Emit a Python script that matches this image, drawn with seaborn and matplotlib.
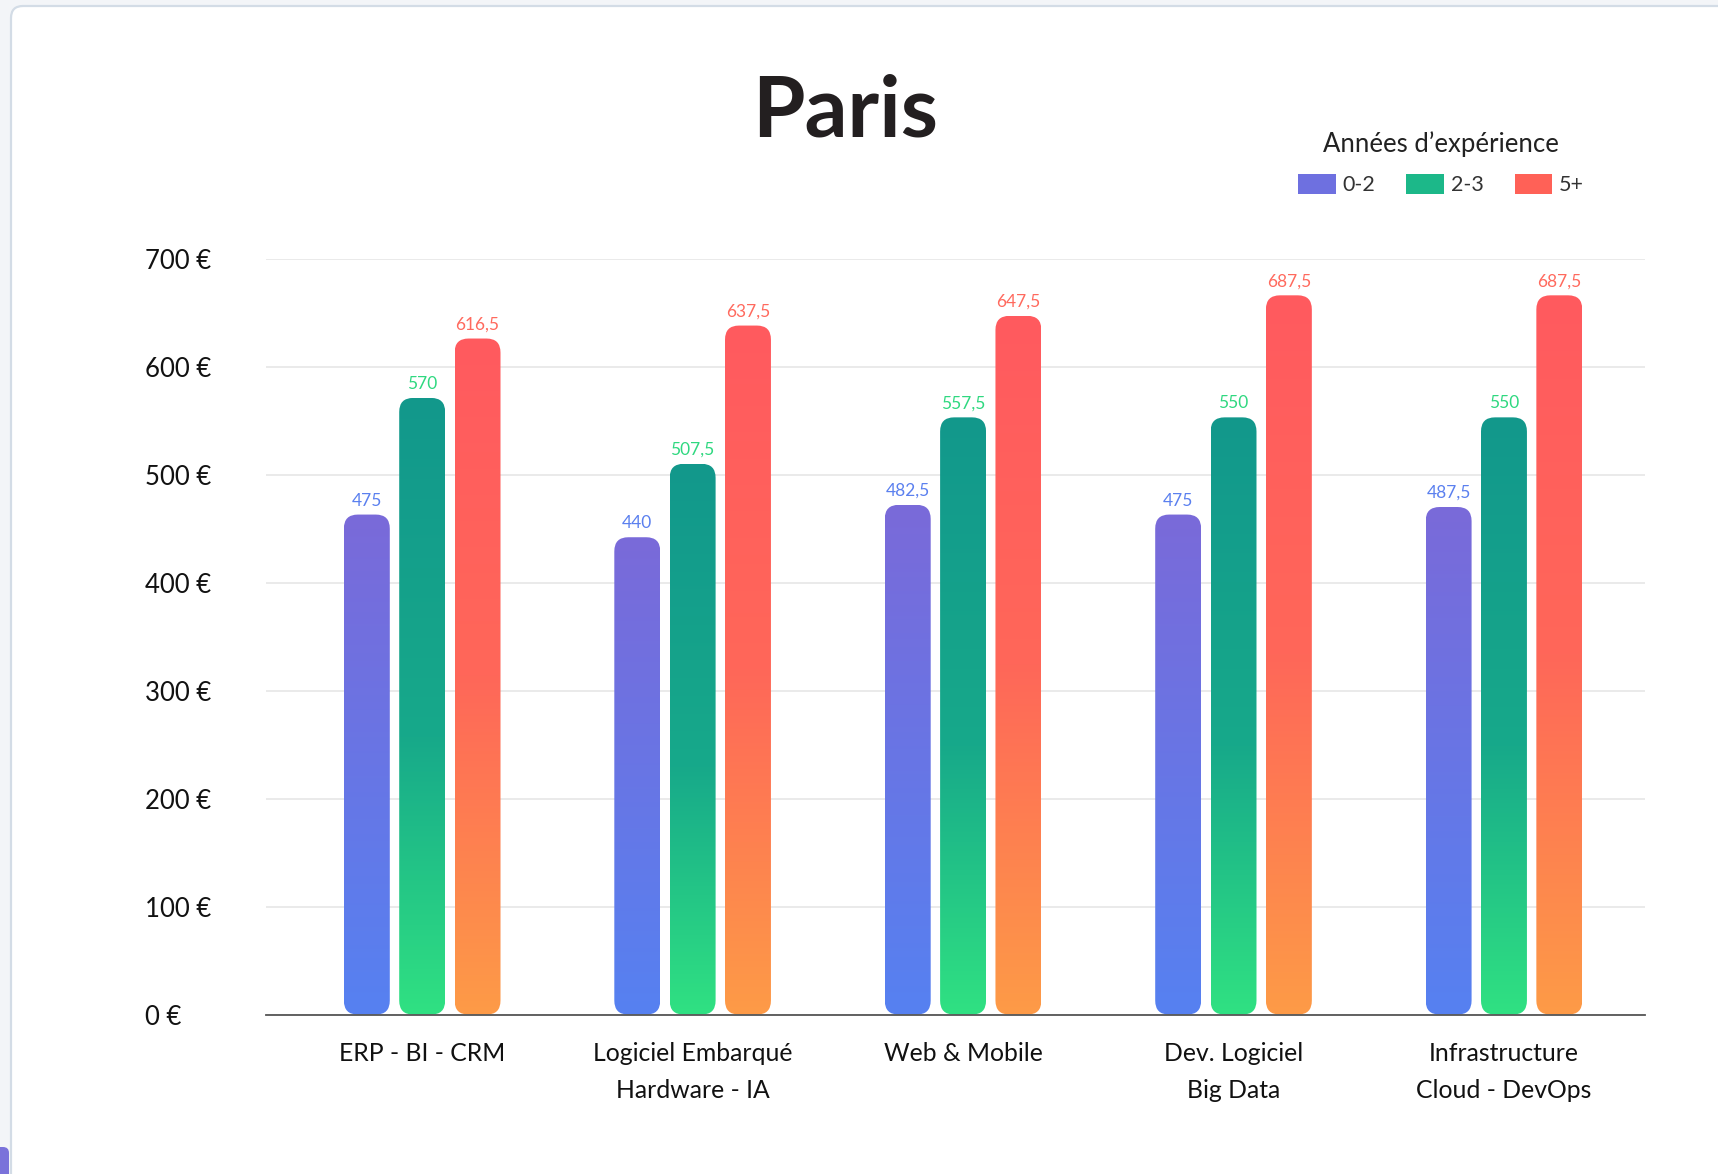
import numpy as np
import pandas as pd
import matplotlib
matplotlib.use("Agg")
import matplotlib.pyplot as plt
import seaborn as sns
from matplotlib.patches import FancyBboxPatch, Patch
from matplotlib.colors import LinearSegmentedColormap

# categories and series (bar heights, labels as printed)
categories = ["ERP - BI - CRM", "Logiciel Embarqué\nHardware - IA", "Web & Mobile",
              "Dev. Logiciel\nBig Data", "Infrastructure\nCloud - DevOps"]
experience = ["0-2", "2-3", "5+"]

bar_0_2 = [463, 442, 472, 463, 470]
bar_2_3 = [571, 510, 553, 553, 553]
bar_5 = [626, 638, 647, 666, 666]

labels_0_2 = ["475", "440", "482,5", "475", "487,5"]
labels_2_3 = ["570", "507,5", "557,5", "550", "550"]
labels_5 = ["616,5", "637,5", "647,5", "687,5", "687,5"]

y_ticks = [0, 100, 200, 300, 400, 500, 600, 700]

df = pd.DataFrame({
    "categorie": categories * 3,
    "experience": np.repeat(experience, len(categories)),
    "valeur": bar_0_2 + bar_2_3 + bar_5,
})

# gradients bottom -> top
gradients = [
    LinearSegmentedColormap.from_list("g02", [(0, "#5681F1"), (1, "#7A6AD9")]),
    LinearSegmentedColormap.from_list("g23", [(0, "#30E182"), (0.45, "#17A98A"), (1, "#12988C")]),
    LinearSegmentedColormap.from_list("g5", [(0, "#FD9B47"), (0.5, "#FF6759"), (1, "#FF5A5F")]),
]
legend_colors = ["#6E70E0", "#1CB889", "#FF6157"]
label_colors = ["#5B80EF", "#2FD880", "#FF6A5E"]
all_labels = [labels_0_2, labels_2_3, labels_5]

sns.set_theme(style="white")
plt.rcParams["font.family"] = ["Lato", "DejaVu Sans"]

W, H = 1718, 1174
fig = plt.figure(figsize=(W / 100, H / 100), dpi=100)
fig.patch.set_facecolor("#F3F5F8")

# white card behind the chart
card = FancyBboxPatch((0.11, -0.3), 18, 11.98, boxstyle="round,pad=0,rounding_size=0.12",
                      transform=fig.dpi_scale_trans, facecolor="white",
                      edgecolor="#D3DCE6", linewidth=1.6, zorder=-2)
fig.add_artist(card)
fig.add_artist(FancyBboxPatch((-0.1, -0.1), 0.19, 0.37, boxstyle="round,pad=0,rounding_size=0.06",
                              transform=fig.dpi_scale_trans, facecolor="#7A72DA",
                              edgecolor="none", zorder=-1))

ax = fig.add_axes([266 / W, 1 - 1014.6 / H, 1378.6 / W, 756 / H])
ax.set_facecolor("none")

sns.barplot(data=df, x="categorie", y="valeur", hue="experience", palette=legend_colors,
            width=0.614, gap=0.17, saturation=1, errorbar=None, legend=False, ax=ax)

xmin, xmax = -0.5775, 4.52
ax.set_xlim(xmin, xmax)
ax.set_ylim(0, 700)

# rounded corners: radius in x data units, aspect to keep them circular on screen
px_per_x = 1378.6 / (xmax - xmin)
px_per_y = 756 / 700
r = 14 / px_per_x
asp = px_per_x / px_per_y

grad = np.linspace(0, 1, 256).reshape(-1, 1)
for i, cont in enumerate(ax.containers):
    for j, bar in enumerate(cont):
        x0, w, h = bar.get_x(), bar.get_width(), bar.get_height()
        bar.set_visible(False)
        shape = FancyBboxPatch((x0, 0), w, h, boxstyle=f"round,pad=0,rounding_size={r}",
                               mutation_aspect=asp, facecolor="none", edgecolor="none")
        ax.add_patch(shape)
        im = ax.imshow(grad, extent=[x0, x0 + w, 0, h], origin="lower", cmap=gradients[i],
                       aspect="auto", zorder=2)
        im.set_clip_path(shape)
        ax.annotate(all_labels[i][j], (x0 + w / 2, h), xytext=(0, 6.5), textcoords="offset points",
                    ha="center", va="baseline", color=label_colors[i], fontsize=12.5)

ax.set_xlim(xmin, xmax)
ax.set_ylim(0, 700)

ax.yaxis.grid(True, color="#E6E6E6", linewidth=1.2)
ax.set_axisbelow(True)
for s in ["left", "right", "top"]:
    ax.spines[s].set_visible(False)
ax.spines["bottom"].set_color("#555555")
ax.spines["bottom"].set_linewidth(1.3)
ax.spines["bottom"].set_zorder(3)

ax.set_yticks(y_ticks)
ax.set_yticklabels([f"{v} €" for v in y_ticks])
ax.tick_params(axis="y", length=0, pad=87, labelsize=18.5, labelcolor="#111111")
for lab in ax.get_yticklabels():
    lab.set_ha("left")
ax.tick_params(axis="x", length=0, pad=20, labelsize=17.8, labelcolor="#111111")
for lab in ax.get_xticklabels():
    lab.set_linespacing(1.7)
ax.set_xlabel("")
ax.set_ylabel("")

handles = [Patch(facecolor=c, edgecolor="none") for c in legend_colors]
leg = ax.legend(handles, experience, title="Années d’expérience", ncol=3, frameon=False,
                loc="center", bbox_to_anchor=(1441 / W, 1 - 163 / H), bbox_transform=fig.transFigure,
                fontsize=15.5, title_fontsize=18.5, handlelength=1.75, handleheight=1.05,
                handletextpad=0.3, columnspacing=1.45, labelspacing=0.8)
for t in leg.get_texts():
    t.set_color("#333333")
leg.get_title().set_color("#222222")

fig.text(845 / W, 1 - 112 / H, "Paris", ha="center", va="center", fontsize=61,
         fontweight="bold", color="#231F20")

fig.savefig("out.png", dpi=100)
